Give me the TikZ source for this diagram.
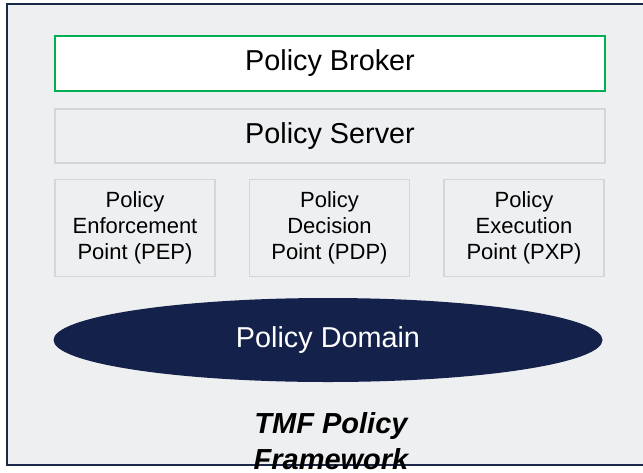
\documentclass[tikz,border=0pt]{standalone}
\usepackage{fontspec}
\setmainfont{Liberation Sans}
\usepackage{tikz}
\usetikzlibrary{shapes.geometric,positioning}
\definecolor{frameblue}{HTML}{1C2849}
\definecolor{panelgrey}{HTML}{EEEFF1}
\definecolor{boxline}{HTML}{D3D6DA}
\definecolor{brokergreen}{HTML}{00B050}
\definecolor{domainnavy}{HTML}{13214B}

\begin{document}
\begin{tikzpicture}[x=0.5pt,y=-0.5pt,
 layer/.style={draw=boxline,fill=panelgrey,line width=0.6pt,minimum width=275pt,minimum height=27pt,inner sep=0pt,font=\fontsize{14.4}{17}\selectfont},
 point/.style={draw=boxline,fill=panelgrey,line width=0.6pt,minimum width=80pt,minimum height=48.5pt,inner sep=0pt,align=center,font=\fontsize{11}{13}\selectfont},
 policydomain/.style={ellipse,fill=domainnavy,text=white,minimum width=274.5pt,minimum height=42pt,inner sep=0pt,font=\fontsize{14.4}{17}\selectfont},
 title/.style={align=center,font=\fontsize{14.5}{18}\selectfont\bfseries\itshape}]
\useasboundingbox (0,0) rectangle (643,472);
% outer frame, runs off the right edge
\draw[frameblue,fill=panelgrey,line width=1pt] (7,4) rectangle (652,465);
\node[layer,draw=brokergreen,fill=white,minimum height=27.5pt] (broker) at (330,63.5) {Policy Broker};
\node[layer] (server) at (330,136) {Policy Server};
\node[point] (pep) at (135,228) {Policy\\Enforcement\\Point (PEP)};
\node[point] (pdp) at (329.5,228) {Policy\\Decision\\Point (PDP)};
\node[point] (pxp) at (524,228) {Policy\\Execution\\Point (PXP)};
\node[policydomain] (dom) at (328,340) {Policy Domain};
\node[title] (tmf) at (331,441) {TMF Policy\\Framework};
\end{tikzpicture}
\end{document}
